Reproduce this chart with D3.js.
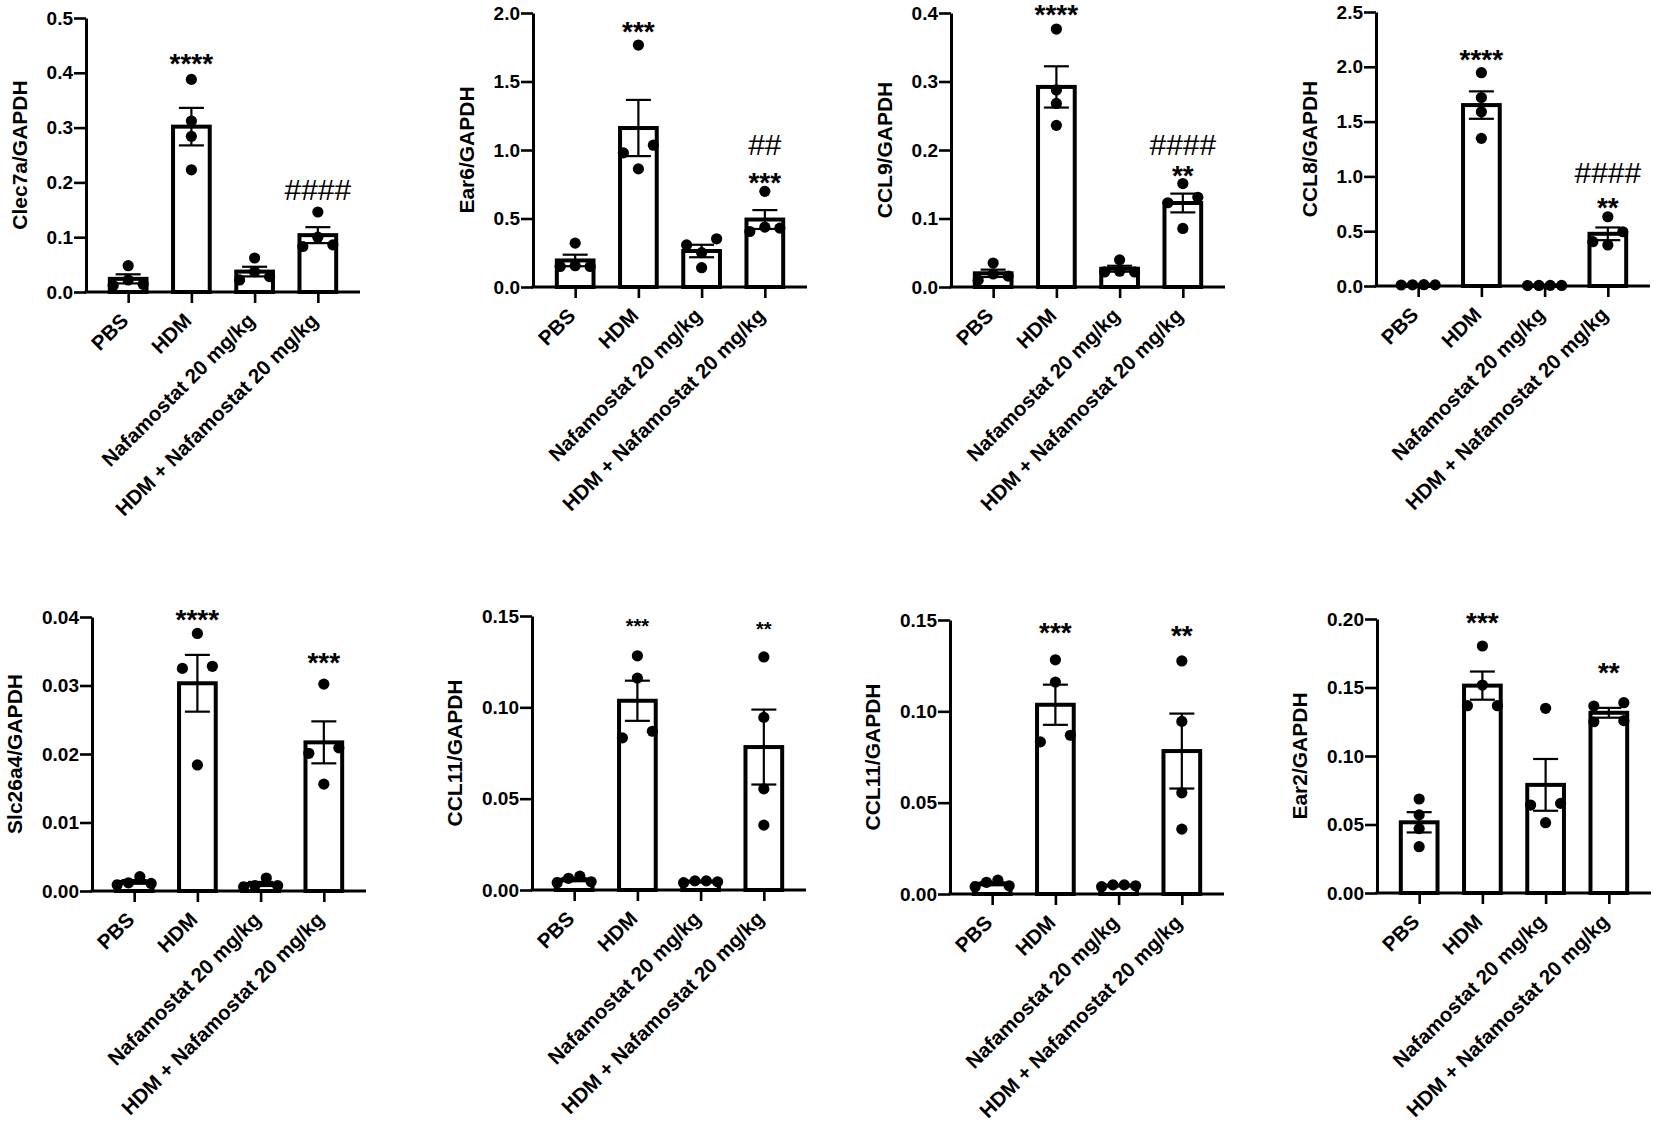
<!DOCTYPE html>
<html>
<head>
<meta charset="utf-8">
<script src="https://d3js.org/d3.v7.min.js"></script>
<style>
  body { margin: 0; background: #fff; }
  svg { display: block; }
  text { fill: #000; }
</style>
</head>
<body>
<svg id="chart" width="1654" height="1122"></svg>
<script>
const groups = ["PBS", "HDM", "Nafamostat 20 mg/kg", "HDM + Nafamostat 20 mg/kg"];

// individual animals, one array per group (PBS, HDM, Nafamostat, HDM + Nafamostat)
const clec7aValues = [[0.048, 0.022, 0.012, 0.014], [0.388, 0.312, 0.284, 0.223], [0.062, 0.037, 0.022, 0.028], [0.146, 0.100, 0.083, 0.086]];
const clec7aTicks = [0, 0.1, 0.2, 0.3, 0.4, 0.5];
const clec7aMarks = [{group: 1, text: "****", at: 0.421}, {group: 3, text: "####", at: 0.1685}];

const ear6Values = [[0.32, 0.155, 0.15, 0.15], [1.766, 1.035, 0.979, 0.862], [0.307, 0.352, 0.251, 0.141], [0.698, 0.405, 0.437, 0.43]];
const ear6Ticks = [0, 0.5, 1.0, 1.5, 2.0];
const ear6Marks = [{group: 1, text: "***", at: 1.883}, {group: 3, text: "***", at: 0.784}, {group: 3, text: "##", at: 0.967}];

const ccl9Values = [[0.035, 0.019, 0.010, 0.016], [0.3766, 0.2877, 0.268, 0.236], [0.0396, 0.023, 0.022, 0.022], [0.151, 0.131, 0.123, 0.0855]];
const ccl9Ticks = [0, 0.1, 0.2, 0.3, 0.4];
const ccl9Marks = [{group: 1, text: "****", at: 0.401}, {group: 3, text: "**", at: 0.167}, {group: 3, text: "####", at: 0.193}];

const ccl8Values = [[0.012, 0.010, 0.011, 0.009], [1.946, 1.72, 1.59, 1.347], [0.005, 0.006, 0.004, 0.005], [0.632, 0.495, 0.404, 0.374]];
const ccl8Ticks = [0, 0.5, 1.0, 1.5, 2.0, 2.5];
const ccl8Marks = [{group: 1, text: "****", at: 2.089}, {group: 3, text: "**", at: 0.739}, {group: 3, text: "####", at: 0.94}];

const slc26a4Values = [[0.0021, 0.0009, 0.0011, 0.0012], [0.0376, 0.0328, 0.0325, 0.0184], [0.0019, 0.0006, 0.0008, 0.0008], [0.0302, 0.0209, 0.0201, 0.0156]];
const slc26a4Ticks = [0, 0.01, 0.02, 0.03, 0.04];
const slc26a4Marks = [{group: 1, text: "****", at: 0.040}, {group: 3, text: "***", at: 0.0337}];

const ccl11Values = [[0.0045, 0.0076, 0.0064, 0.004], [0.1282, 0.116, 0.0833, 0.0869], [0.004, 0.005, 0.005, 0.0045], [0.1276, 0.0945, 0.0554, 0.0355]];
const ccl11Ticks = [0, 0.05, 0.10, 0.15];
const ccl11MarksA = [{group: 1, text: "***", at: 0.1455}, {group: 3, text: "**", at: 0.1436}];
const ccl11MarksB = [{group: 1, text: "***", at: 0.1445}, {group: 3, text: "**", at: 0.1427}];

const ear2Values = [[0.0686, 0.057, 0.047, 0.0338], [0.1803, 0.1518, 0.1367, 0.1367], [0.1348, 0.0654, 0.0642, 0.0513], [0.1365, 0.1389, 0.125, 0.1258]];
const ear2Ticks = [0, 0.05, 0.10, 0.15, 0.20];
const ear2Marks = [{group: 1, text: "***", at: 0.1993}, {group: 3, text: "**", at: 0.1628}];

const panels = [
  {label: "Clec7a/GAPDH", values: clec7aValues, ticks: clec7aTicks, fmt: ".1f", marks: clec7aMarks},
  {label: "Ear6/GAPDH", values: ear6Values, ticks: ear6Ticks, fmt: ".1f", marks: ear6Marks},
  {label: "CCL9/GAPDH", values: ccl9Values, ticks: ccl9Ticks, fmt: ".1f", marks: ccl9Marks},
  {label: "CCL8/GAPDH", values: ccl8Values, ticks: ccl8Ticks, fmt: ".1f", marks: ccl8Marks},
  {label: "Slc26a4/GAPDH", values: slc26a4Values, ticks: slc26a4Ticks, fmt: ".2f", marks: slc26a4Marks},
  {label: "CCL11/GAPDH", values: ccl11Values, ticks: ccl11Ticks, fmt: ".2f", marks: ccl11MarksA},
  {label: "CCL11/GAPDH", values: ccl11Values, ticks: ccl11Ticks, fmt: ".2f", marks: ccl11MarksB},
  {label: "Ear2/GAPDH", values: ear2Values, ticks: ear2Ticks, fmt: ".2f", marks: ear2Marks}
];

// where each panel's axes sit on the page
const layout = [
  {x: 86, y0: 292, markSize: 28}, {x: 533, y0: 287, markSize: 28},
  {x: 951, y0: 287, markSize: 28}, {x: 1376, y0: 286, markSize: 28},
  {x: 92, y0: 891, markSize: 28}, {x: 532, y0: 890, markSize: 20},
  {x: 950, y0: 894, markSize: 28}, {x: 1377, y0: 893, markSize: 28}
];

const plotW = 274, plotH = 274;
const barW = 36.7;
const labelFont = "'Liberation Sans', Arial, Helvetica, sans-serif";

const svg = d3.select('#chart');
svg.append('rect').attr('width', 1654).attr('height', 1122).attr('fill', '#fff');

// Prism-style scatter: points at about the same height are spread sideways
function spreadPoints(vals, y) {
  const pts = vals.map(v => ({v, py: y(v)})).sort((a, b) => a.py - b.py);
  const rows = [];
  pts.forEach(p => {
    const row = rows[rows.length - 1];
    if (row && p.py - row[0].py < 10) row.push(p);
    else rows.push([p]);
  });
  rows.forEach(row => {
    const k = row.length;
    let slots;
    if (k === 1) slots = [0];
    else if (k === 2) slots = [15, -15];
    else {
      const step = Math.min(15, 34 / (k - 1));
      slots = d3.range(k).map(i => (i - (k - 1) / 2) * step)
        .sort((a, b) => Math.abs(a) - Math.abs(b) || b - a);
    }
    row.forEach((p, i) => p.dx = slots[i]);
  });
  return pts;
}

function drawPanel(panel, pos) {
  const g = svg.append('g').attr('transform', `translate(${pos.x},${pos.y0 - plotH})`);

  const x = d3.scalePoint().domain(groups).range([0, plotW]).padding(0.667);
  const y = d3.scaleLinear()
    .domain([0, panel.ticks[panel.ticks.length - 1]])
    .range([plotH, 0]);

  const stats = panel.values.map((vals, i) => {
    const mean = d3.mean(vals);
    const sem = d3.deviation(vals) / Math.sqrt(vals.length);
    return {group: groups[i], vals, mean, sem};
  });

  // bars
  g.selectAll('rect.bar')
    .data(stats)
    .enter().append('rect')
    .attr('class', 'bar')
    .attr('x', d => x(d.group) - barW / 2)
    .attr('y', d => y(d.mean))
    .attr('width', barW)
    .attr('height', d => plotH - y(d.mean))
    .style('fill', '#fff')
    .style('stroke', '#000')
    .style('stroke-width', '4px');

  // error bars (mean ± SEM)
  const err = g.selectAll('g.err')
    .data(stats)
    .enter().append('g')
    .attr('class', 'err')
    .style('stroke', '#000')
    .style('stroke-width', '2.2px');
  err.append('line')
    .attr('x1', d => x(d.group)).attr('x2', d => x(d.group))
    .attr('y1', d => y(d.mean - d.sem)).attr('y2', d => y(d.mean + d.sem));
  err.append('line')
    .attr('x1', d => x(d.group) - 12.5).attr('x2', d => x(d.group) + 12.5)
    .attr('y1', d => y(d.mean + d.sem)).attr('y2', d => y(d.mean + d.sem));
  err.append('line')
    .attr('x1', d => x(d.group) - 12.5).attr('x2', d => x(d.group) + 12.5)
    .attr('y1', d => y(d.mean - d.sem)).attr('y2', d => y(d.mean - d.sem));

  // points
  stats.forEach(s => {
    g.selectAll(null)
      .data(spreadPoints(s.vals, y))
      .enter().append('circle')
      .attr('cx', p => x(s.group) + p.dx)
      .attr('cy', p => p.py)
      .attr('r', 5.6)
      .style('fill', '#000');
  });

  // y axis
  const gY = g.append('g')
    .call(d3.axisLeft(y).tickValues(panel.ticks).tickFormat(d3.format(panel.fmt))
      .tickSize(12).tickSizeOuter(0).tickPadding(1));
  gY.select('.domain').style('stroke-width', '3px');
  gY.selectAll('.tick line').style('stroke-width', '2.6px');
  gY.selectAll('.tick text')
    .style('font-family', labelFont)
    .style('font-weight', 'bold')
    .style('font-size', '19px');

  // x axis
  const gX = g.append('g')
    .attr('transform', `translate(0,${plotH})`)
    .call(d3.axisBottom(x).tickSize(11).tickSizeOuter(0));
  gX.select('.domain').attr('d', `M-1.5,0H${plotW}`).style('stroke-width', '3px');
  gX.selectAll('.tick line').style('stroke-width', '2.6px');
  gX.selectAll('.tick text')
    .attr('x', 0).attr('y', 0).attr('dy', 0)
    .attr('transform', 'translate(1,30) rotate(-45)')
    .style('text-anchor', 'end')
    .style('font-family', labelFont)
    .style('font-weight', 'bold')
    .style('font-size', '20.5px');

  // y title
  const bb = gY.node().getBBox();
  g.append('text')
    .attr('transform', 'rotate(-90)')
    .attr('x', -plotH / 2)
    .attr('y', bb.x - 20)
    .attr('text-anchor', 'middle')
    .style('font-family', labelFont)
    .style('font-weight', 'bold')
    .style('font-size', '21px')
    .text(panel.label);

  // significance marks
  g.selectAll('text.mark')
    .data(panel.marks)
    .enter().append('text')
    .attr('class', 'mark')
    .attr('x', d => x(groups[d.group]))
    .attr('y', d => {
      if (d.text[0] === '#') return y(d.at);
      return y(d.at) + 0.43 * pos.markSize;
    })
    .attr('text-anchor', 'middle')
    .style('font-family', labelFont)
    .style('font-weight', d => d.text[0] === '#' ? 'normal' : 'bold')
    .style('font-size', d => (d.text[0] === '#' ? pos.markSize + 2 : pos.markSize) + 'px')
    .text(d => d.text);
}

panels.forEach((p, i) => drawPanel(p, layout[i]));
</script>
</body>
</html>
